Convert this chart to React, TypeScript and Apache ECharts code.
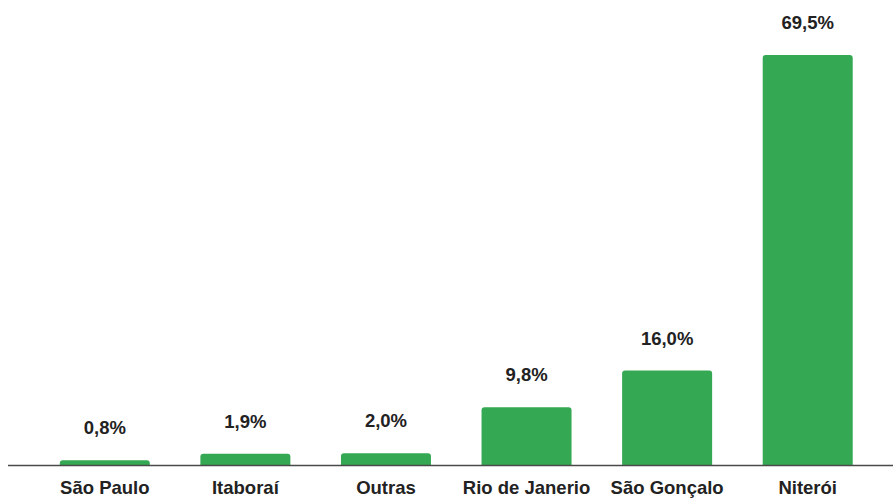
import React, { useEffect, useRef } from "react";
import * as echarts from "echarts";

const categories = ["São Paulo", "Itaboraí", "Outras", "Rio de Janerio", "São Gonçalo", "Niterói"];
const values = [0.8, 1.9, 2.0, 9.8, 16.0, 69.5];

const W = 893;
const H = 499;
const GRID_BOTTOM = 34;

export default function App() {
  const ref = useRef<HTMLDivElement>(null);
  useEffect(() => {
    if (!ref.current) return;
    const chart = echarts.init(ref.current, undefined, { renderer: "svg" });
    const baseY = H - GRID_BOTTOM;
    chart.setOption({
      animation: false,
      backgroundColor: "#ffffff",
      grid: { left: 34.5, right: 15, top: 52, bottom: GRID_BOTTOM, containLabel: false },
      xAxis: {
        type: "category",
        data: categories,
        axisLine: { show: false },
        axisTick: { show: false },
        axisLabel: {
          interval: 0,
          margin: 13,
          color: "#222222",
          fontFamily: "Liberation Sans, Arial, sans-serif",
          fontWeight: "bold",
          fontSize: 18.5,
        },
      },
      yAxis: {
        type: "value",
        min: 0,
        max: 70,
        show: false,
        splitLine: { show: false },
      },
      graphic: [
        {
          type: "line",
          shape: { x1: 8, y1: baseY + 0.5, x2: W, y2: baseY + 0.5 },
          style: { stroke: "#4a4a4a", lineWidth: 1.5 },
          z: 10,
        },
      ],
      series: [
        {
          type: "bar",
          data: values,
          barWidth: 90,
          itemStyle: { color: "#34a853", borderRadius: [3, 3, 0, 0] },
          label: {
            show: true,
            position: "top",
            distance: 23,
            color: "#222222",
            fontFamily: "Liberation Sans, Arial, sans-serif",
            fontWeight: "bold",
            fontSize: 18.5,
            formatter: (p: any) => p.value.toFixed(1).replace(".", ",") + "%",
          },
        },
      ],
    });
    return () => chart.dispose();
  }, []);
  return <div ref={ref} style={{ width: W, height: H, position: "absolute", left: 0, top: 0 }} />;
}
